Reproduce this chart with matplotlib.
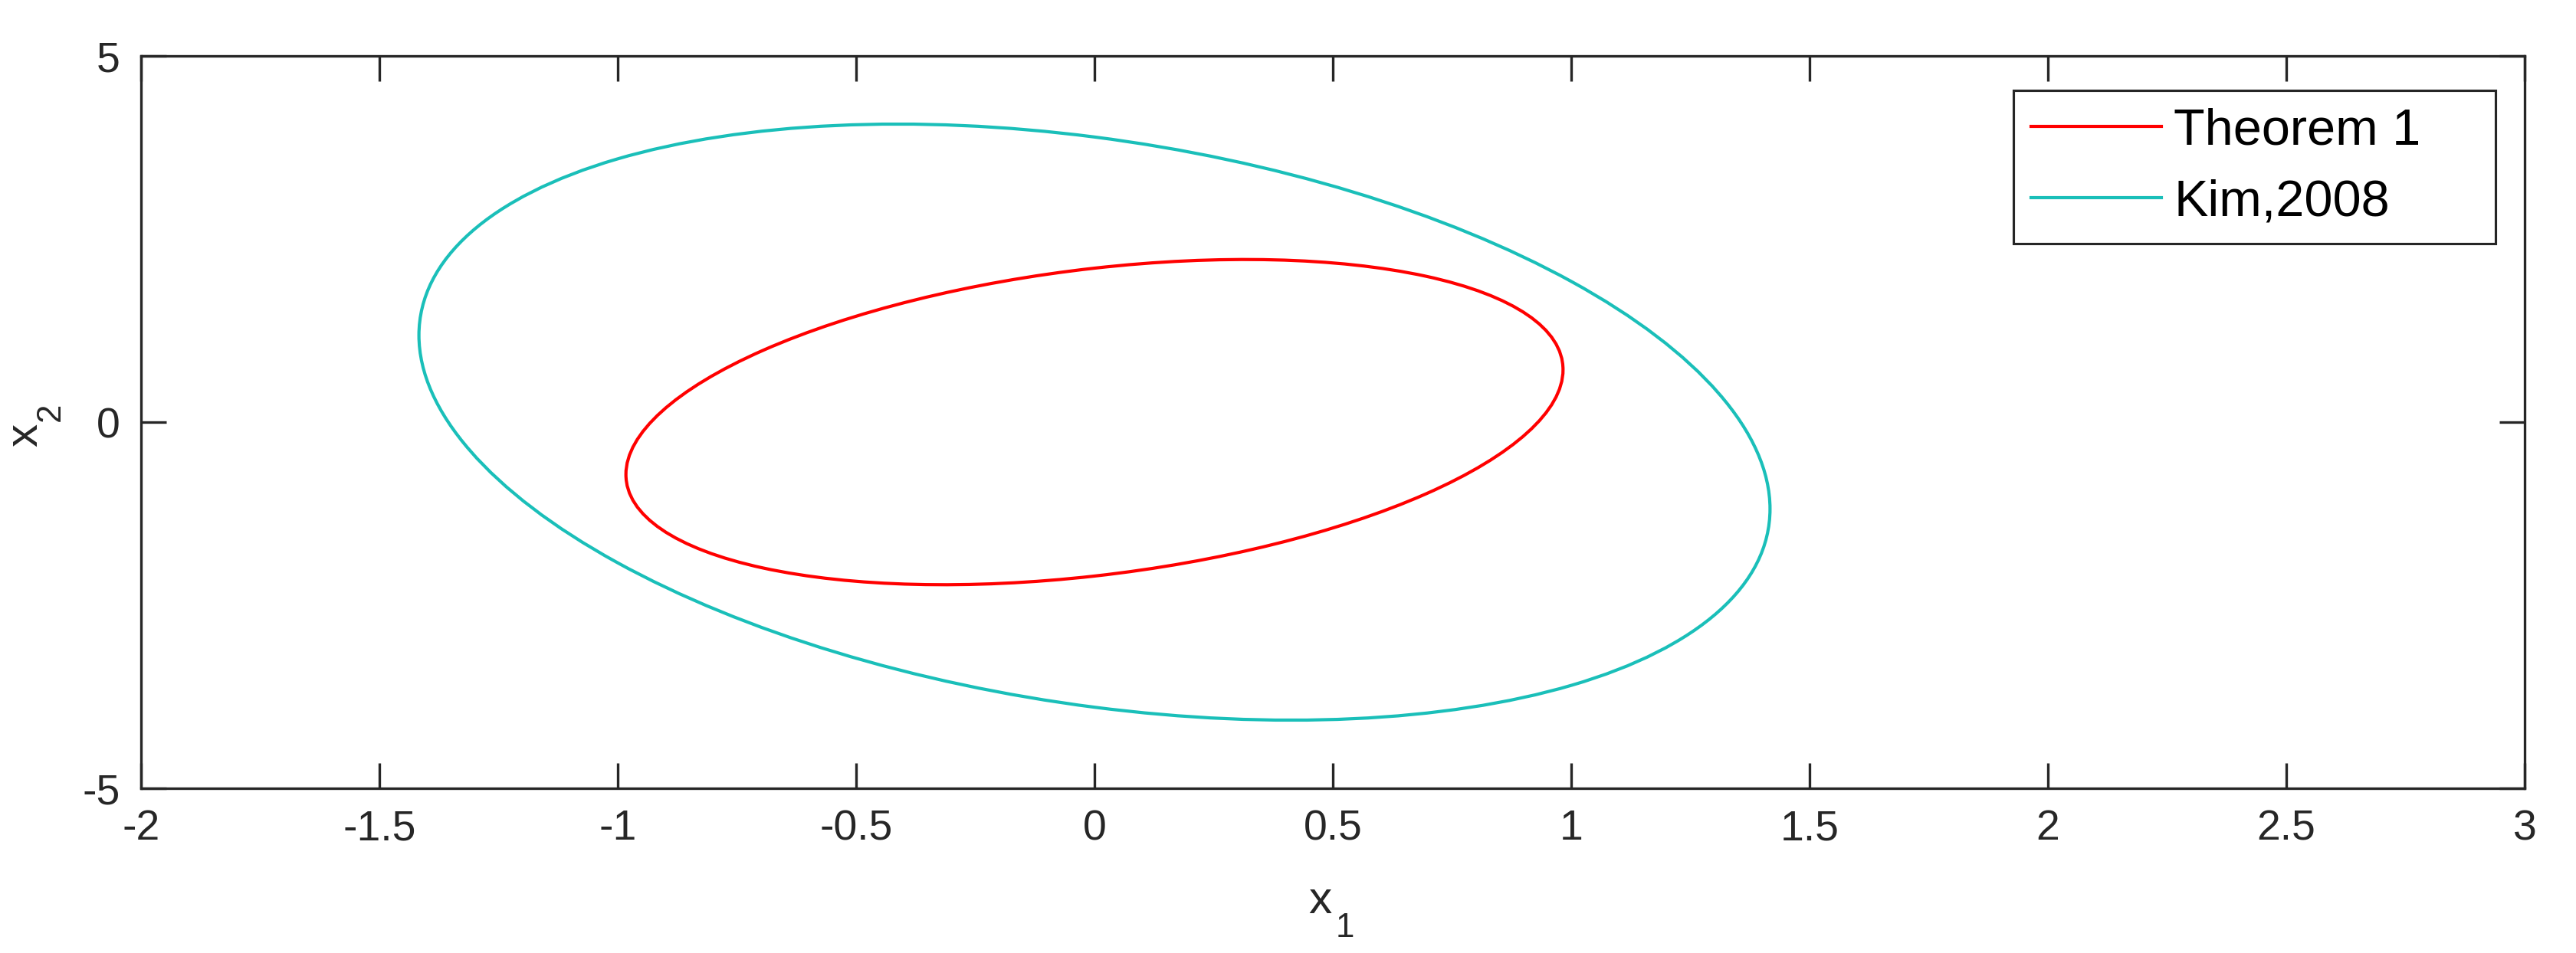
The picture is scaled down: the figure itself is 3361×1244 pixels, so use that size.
import numpy as np
import matplotlib
matplotlib.use("Agg")
import matplotlib.pyplot as plt
from matplotlib.patches import Circle
from matplotlib.lines import Line2D
from matplotlib.transforms import Affine2D

plt.rcParams.update({
    "font.family": ["Liberation Sans", "DejaVu Sans"],
    "axes.unicode_minus": False,
})

# ellipse shape matrices Q (x = L u, |u| = 1, Q = L L^T)
labels   = ["Theorem 1", "Kim,2008"]
colors   = ["#ff0000", "#1abfb9"]
q11      = [0.966, 2.008]     # (x1 extreme)^2
q12      = [0.703, -1.68]     # x1 extreme * x2 there
q22      = [4.93, 16.56]      # (x2 extreme)^2

x_ticks  = [-2, -1.5, -1, -0.5, 0, 0.5, 1, 1.5, 2, 2.5, 3]
x_ticklabels = ["-2", "-1.5", "-1", "-0.5", "0", "0.5", "1", "1.5", "2", "2.5", "3"]
y_ticks  = [-5, 0, 5]

W, H = 3361, 1244
fig = plt.figure(figsize=(W / 300, H / 300), dpi=300)
ax = fig.add_axes([184 / W, 1 - 1029 / H, (3294 - 184) / W, (1029 - 73) / H])

def fx(px):
    return px / W

def fy(py):
    return 1 - py / H

axc = "#262626"
handles = []
for lab, col, a, b, c in zip(labels, colors, q11, q12, q22):
    Q = np.array([[a, b], [b, c]])
    L = np.linalg.cholesky(Q)
    M = np.eye(3)
    M[:2, :2] = L
    circ = Circle((0, 0), 1, fill=False, edgecolor=col, lw=1.0,
                  transform=Affine2D(M) + ax.transData)
    ax.add_patch(circ)
    handles.append(Line2D([0], [0], color=col, lw=1.0))

ax.set_xlim(-2, 3)
ax.set_ylim(-5, 5)
ax.set_xticks(x_ticks)
ax.set_xticklabels(x_ticklabels)
ax.set_yticks(y_ticks)
ax.tick_params(direction="in", length=8, width=0.8, color=axc, labelcolor=axc,
               labelsize=13.3, top=True, right=True)
ax.tick_params(axis="x", pad=6.5)
ax.tick_params(axis="y", pad=6.5)
for s in ax.spines.values():
    s.set_color(axc)
    s.set_linewidth(0.8)

# axis labels with MATLAB-like deep subscripts
fig.text(fx(1722), fy(1192), "x", fontsize=14.5, color=axc, ha="center", va="baseline")
fig.text(fx(1743), fy(1223), "1", fontsize=10.5, color=axc, ha="left", va="baseline")
fig.text(fx(48), fy(568), "x", fontsize=14.5, color=axc, ha="center", va="baseline",
         rotation=90, rotation_mode="anchor")
fig.text(fx(78), fy(550), "2", fontsize=10.5, color=axc, ha="left", va="baseline",
         rotation=90, rotation_mode="anchor")

leg = ax.legend(handles, labels, loc="upper left", mode="expand",
                bbox_to_anchor=(fx(2627), fy(318), fx(3256) - fx(2627), fy(118) - fy(318)),
                bbox_transform=fig.transFigure,
                borderaxespad=0, fontsize=16, handlelength=2.55, handletextpad=0.25,
                borderpad=0.34, labelspacing=0.46, fancybox=False, framealpha=1)
leg.get_frame().set_edgecolor(axc)
leg.get_frame().set_linewidth(0.75)

fig.savefig("out.png", dpi=300, facecolor="white")
